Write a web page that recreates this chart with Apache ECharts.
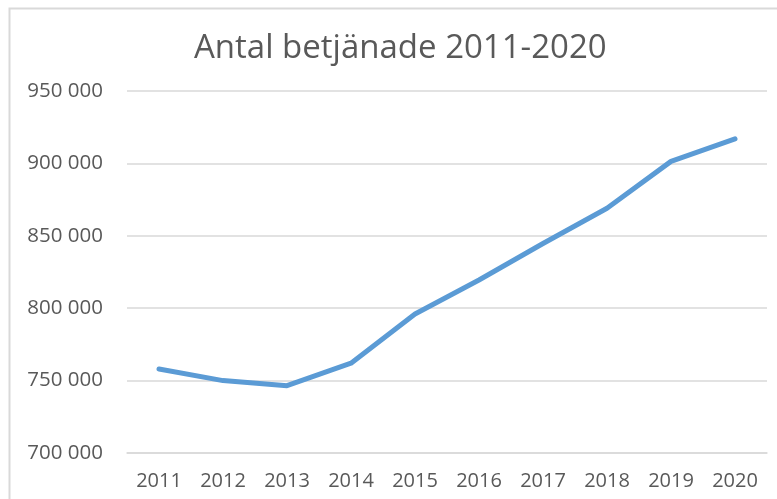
<!DOCTYPE html>
<html>
<head>
<meta charset="utf-8">
<style>
  html, body { margin: 0; padding: 0; background: #fff; }
  #chart { width: 777px; height: 499px; }
</style>
<script src="https://cdn.jsdelivr.net/npm/echarts@6/dist/echarts.min.js"></script>
</head>
<body>
<div id="chart"></div>
<script>
// år och antal betjänade
var years = ["2011", "2012", "2013", "2014", "2015", "2016", "2017", "2018", "2019", "2020"];
var served = [758000, 750000, 746500, 762000, 796000, 819500, 844700, 869000, 901400, 917000];
var yTicks = [700000, 950000, 50000]; // min, max, steg

var chart = echarts.init(document.getElementById("chart"));

function fmt(v) {
  // 950000 -> "950 000"
  return String(v).replace(/\B(?=(\d{3})+(?!\d))/g, " ");
}

var option = {
  animation: false,
  textStyle: { fontFamily: "Open Sans" },
  title: {
    text: "Antal betjänade 2011-2020",
    left: 189,
    top: 27,
    textStyle: {
      fontFamily: "Open Sans",
      fontSize: 33,
      fontWeight: "normal",
      color: "#595959"
    }
  },
  graphic: [
    {
      // ram runt diagrammet
      type: "rect",
      shape: { x: 9.5, y: 8.5, width: 800, height: 600 },
      style: { fill: "none", stroke: "#D9D9D9", lineWidth: 2 },
      silent: true
    }
  ],
  grid: { left: 127, right: 10, top: 91, bottom: 46 },
  xAxis: {
    type: "category",
    data: years,
    boundaryGap: true,
    axisLine: { lineStyle: { color: "#D9D9D9", width: 1.5 } },
    axisTick: { show: false },
    axisLabel: { color: "#595959", fontSize: 20, margin: 18 }
  },
  yAxis: {
    type: "value",
    min: yTicks[0],
    max: yTicks[1],
    interval: yTicks[2],
    axisLine: { show: false },
    axisTick: { show: false },
    axisLabel: {
      color: "#595959",
      fontSize: 20.5,
      margin: 24,
      formatter: fmt
    },
    splitLine: { lineStyle: { color: "#D9D9D9", width: 1.5 } }
  },
  series: [
    {
      type: "line",
      data: served,
      symbol: "none",
      lineStyle: { color: "#5B9BD5", width: 5, cap: "round", join: "round" }
    }
  ]
};

chart.setOption(option);
</script>
</body>
</html>
